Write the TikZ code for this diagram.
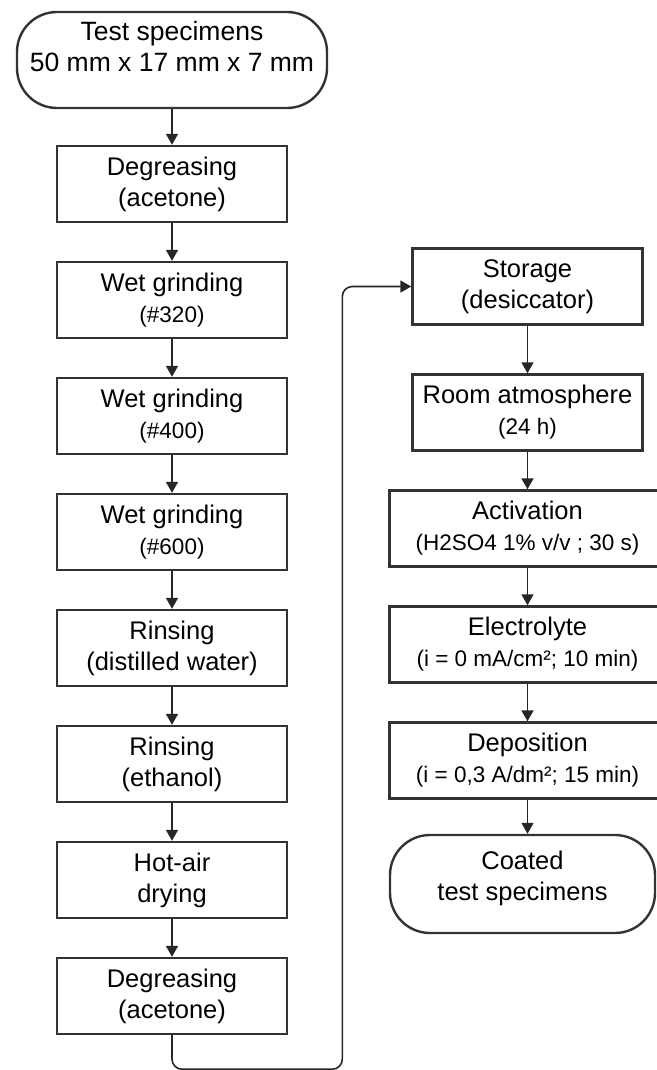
\documentclass[tikz,border=0pt]{standalone}
\usepackage{fontspec}
\setmainfont{Liberation Sans}
\usetikzlibrary{positioning,arrows.meta}
\newcommand\smalltxt{\fontsize{22.5}{27}\selectfont}
\pgfkeys{tikz/mybox/.style={draw=black!80,line width=2.4pt,minimum width=230pt,minimum height=76pt,inner xsep=2pt,align=center,font=\fontsize{25.5}{31}\selectfont}}
\pgfkeys{tikz/myend/.style={mybox,rounded corners=40pt}}
\pgfkeys{tikz/mytext/.style={align=center,font=\fontsize{25.5}{31}\selectfont}}
\pgfkeys{tikz/myarrow/.style={draw=black!85,line width=1.6pt,-{Triangle[width=12pt,length=11pt]}}}

\begin{document}
\begin{tikzpicture}[node distance = 116pt]
  \useasboundingbox (0,0) rectangle (656pt,-1070pt);
  % left column
  \node[myend,minimum width=310pt,minimum height=96pt] (n0) at (172pt,-60pt) {};
  \node[mytext,font=\fontsize{26.5}{31}\selectfont] at ([yshift=13pt]n0.center) {Test specimens\\50 mm x 17 mm x 7 mm};
  \node[mybox,below of=n0,node distance=124pt] (n1) {Degreasing\\(acetone)};
  \node[mybox,below of=n1] (n2) {Wet grinding\\{\smalltxt (\#320)}};
  \node[mybox,below of=n2] (n3) {Wet grinding\\{\smalltxt (\#400)}};
  \node[mybox,below of=n3] (n4) {Wet grinding\\{\smalltxt (\#600)}};
  \node[mybox,below of=n4] (n5) {Rinsing\\(distilled water)};
  \node[mybox,below of=n5] (n6) {Rinsing\\(ethanol)};
  \node[mybox,below of=n6] (n7) {Hot-air\\drying};
  \node[mybox,below of=n7] (n8) {Degreasing\\(acetone)};

  % right column
  \node[mybox] (r0) at (527.5pt,-286.5pt) {Storage\\(desiccator)};
  \node[mybox,below of=r0,node distance=126pt] (r1) {Room atmosphere\\{\smalltxt (24 h)}};
  \node[mybox,below of=r1,minimum width=276pt] (r2) {Activation\\{\smalltxt (H2SO4 1\% v/v ; 30 s)}};
  \node[mybox,below of=r2,minimum width=276pt] (r3) {Electrolyte\\{\smalltxt (i = 0 mA/cm²; 10 min)}};
  \node[mybox,below of=r3,minimum width=276pt] (r4) {Deposition\\{\smalltxt (i = 0,3 A/dm²; 15 min)}};
  \node[myend,below of=r4,node distance=123.5pt,xshift=-5pt,minimum width=265pt,minimum height=98pt] (r5) {};
  \node[mytext] at ([yshift=6pt]r5.center) {Coated\\test specimens};

  \draw[myarrow] (n0) -- (n1);
  \draw[myarrow] (n1) -- (n2);
  \draw[myarrow] (n2) -- (n3);
  \draw[myarrow] (n3) -- (n4);
  \draw[myarrow] (n4) -- (n5);
  \draw[myarrow] (n5) -- (n6);
  \draw[myarrow] (n6) -- (n7);
  \draw[myarrow] (n7) -- (n8);

  \coordinate[left=69pt of r0.west] (c0);
  \draw[myarrow,rounded corners=10pt] (n8.south) -- ++(0,-34pt) -| (c0) -- (r0.west);

  \draw[myarrow] (r0) -- (r1);
  \draw[myarrow] (r1) -- (r2);
  \draw[myarrow] (r2) -- (r3);
  \draw[myarrow] (r3) -- (r4);
  \draw[myarrow] (r4.south) -- (r4.south |- r5.north);
\end{tikzpicture}
\end{document}
